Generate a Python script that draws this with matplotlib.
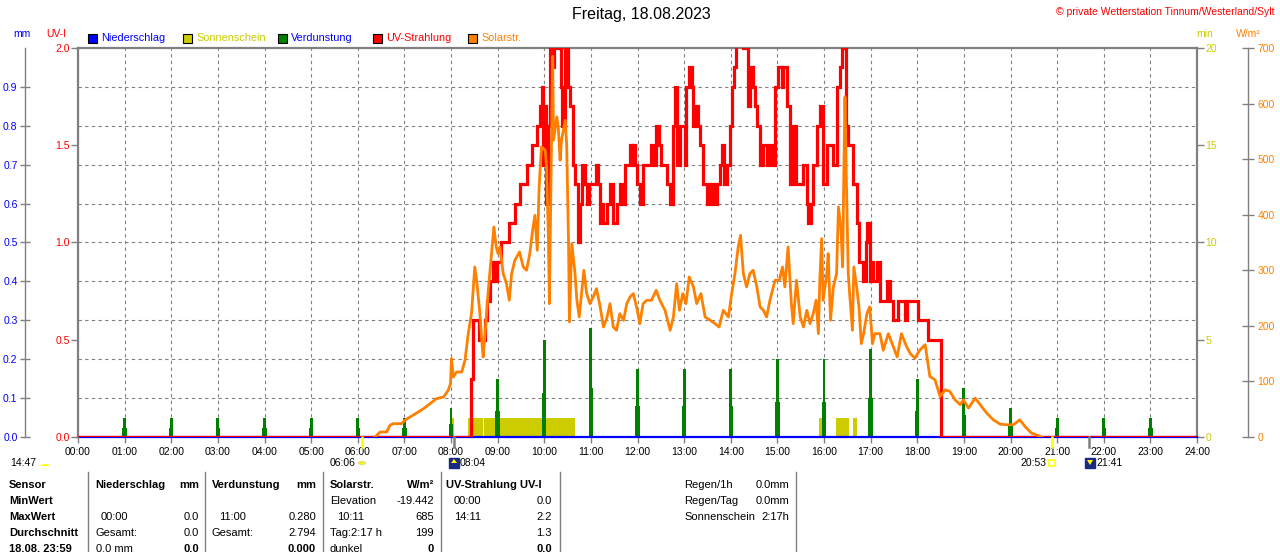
import matplotlib
matplotlib.use("Agg")
import matplotlib.pyplot as plt
from matplotlib.patches import Rectangle, Circle, Wedge, Polygon
from matplotlib.lines import Line2D
import matplotlib.transforms as mtransforms

plt.rcParams['font.family'] = ['Liberation Sans', 'DejaVu Sans']

# ---------------- data ----------------
hour_ticks = list(range(0, 25))
hour_labels = [f"{h:02d}:00" for h in hour_ticks]
mm_ticks = [0.0, 0.1, 0.2, 0.3, 0.4, 0.5, 0.6, 0.7, 0.8, 0.9]
uv_ticks = [0.0, 0.5, 1.0, 1.5, 2.0]
min_ticks = [0, 5, 10, 15, 20]
wm2_ticks = [0, 100, 200, 300, 400, 500, 600, 700]

precip_hours = [0.0, 24.0]
precip_mm = [0.0, 0.0]

evap_hours = list(range(1, 24))
evap_mm = [0.05, 0.05, 0.05, 0.05, 0.05, 0.05, 0.05, 0.075, 0.15, 0.25, 0.28,
           0.175, 0.175, 0.175, 0.2, 0.2, 0.225, 0.15, 0.125, 0.075, 0.05, 0.05, 0.05]

sun_start = [8.01, 8.36, 8.71, 15.90, 16.26, 16.63]
sun_end = [8.06, 8.68, 10.66, 15.96, 16.54, 16.70]
sun_minutes = [1, 1, 1, 1, 1, 1]

uv_hours = [0.0, 8.42, 8.47, 8.60, 8.72, 8.77, 8.83, 8.90, 8.95, 8.99, 9.07, 9.24, 9.38,
            9.48, 9.62, 9.73, 9.84, 9.91, 9.95, 9.98, 10.00, 10.04, 10.08, 10.12, 10.18,
            10.21, 10.27, 10.31, 10.36, 10.39, 10.45, 10.51, 10.55, 10.62, 10.67, 10.72,
            10.76, 10.80, 10.88, 10.92, 10.97, 11.05, 11.12, 11.16, 11.20, 11.24, 11.27,
            11.34, 11.41, 11.48, 11.57, 11.62, 11.67, 11.73, 11.84, 11.88, 11.91, 11.95,
            11.98, 12.05, 12.12, 12.30, 12.36, 12.40, 12.47, 12.50, 12.63, 12.70, 12.77,
            12.81, 12.84, 12.91, 13.02, 13.05, 13.10, 13.16, 13.20, 13.25, 13.30, 13.34,
            13.41, 13.48, 13.52, 13.56, 13.60, 13.66, 13.70, 13.77, 13.82, 13.86, 13.91,
            13.98, 14.03, 14.07, 14.11, 14.20, 14.27, 14.30, 14.38, 14.41, 14.48, 14.52,
            14.57, 14.63, 14.70, 14.77, 14.84, 14.90, 14.95, 15.02, 15.09, 15.13, 15.20,
            15.27, 15.34, 15.41, 15.56, 15.63, 15.66, 15.72, 15.77, 15.84, 15.91, 15.98,
            16.06, 16.20, 16.27, 16.34, 16.38, 16.45, 16.48, 16.52, 16.63, 16.70, 16.75,
            16.84, 16.90, 16.93, 16.98, 17.03, 17.06, 17.13, 17.20, 17.35, 17.42, 17.49,
            17.59, 17.74, 17.79, 18.02, 18.24, 18.52, 24.0]
uv_index = [0.0, 0.3, 0.6, 0.5, 0.6, 0.7, 0.8, 0.9, 0.8, 0.9, 1.0, 1.1, 1.2,
            1.3, 1.4, 1.5, 1.6, 1.7, 1.8, 1.4, 1.7, 1.2, 1.6, 2.1, 1.9,
            2.2, 2.0, 2.1, 1.8, 1.6, 2.1, 1.8, 1.7, 1.4, 1.3, 1.0,
            1.2, 1.4, 1.3, 1.2, 1.3, 1.3, 1.4, 1.3, 1.1, 1.2, 1.1,
            1.2, 1.3, 1.1, 1.2, 1.3, 1.2, 1.4, 1.5, 1.4, 1.5, 1.4,
            1.3, 1.2, 1.4, 1.5, 1.4, 1.6, 1.5, 1.4, 1.3, 1.2, 1.6,
            1.8, 1.4, 1.6, 1.4, 1.8, 1.9, 1.8, 1.6, 1.7, 1.6, 1.5,
            1.3, 1.2, 1.3, 1.2, 1.3, 1.2, 1.3, 1.4, 1.5, 1.3, 1.4,
            1.6, 1.8, 1.9, 2.2, 2.1, 2.0, 2.1, 1.7, 1.9, 1.8, 1.7,
            1.6, 1.4, 1.5, 1.4, 1.5, 1.4, 1.8, 1.9, 1.8, 1.9, 1.7,
            1.3, 1.6, 1.3, 1.4, 1.2, 1.1, 1.2, 1.4, 1.6, 1.7, 1.3,
            1.5, 1.4, 1.8, 1.9, 2.1, 2.0, 1.6, 1.5, 1.3, 1.1, 0.9,
            0.8, 1.0, 1.1, 0.8, 0.9, 0.8, 0.9, 0.7, 0.8, 0.7, 0.6,
            0.7, 0.6, 0.7, 0.6, 0.5, 0.0, 0.0]

solar_hours = [6.37, 6.48, 6.62, 6.69, 6.76, 6.94, 7.01, 7.12, 7.26, 7.41, 7.55, 7.69, 7.84,
               7.94, 7.99, 8.01, 8.05, 8.12, 8.23, 8.30, 8.37, 8.44, 8.51, 8.55, 8.62, 8.66,
               8.69, 8.73, 8.80, 8.87, 8.92, 8.97, 9.01, 9.05, 9.12, 9.19, 9.25, 9.30, 9.37,
               9.47, 9.55, 9.62, 9.69, 9.75, 9.80, 9.85, 9.89, 9.94, 10.02, 10.05, 10.09,
               10.11, 10.14, 10.18, 10.20, 10.27, 10.30, 10.34, 10.37, 10.45, 10.48, 10.52,
               10.54, 10.59, 10.66, 10.70, 10.75, 10.80, 10.85, 10.91, 10.98, 11.05, 11.12,
               11.20, 11.27, 11.34, 11.41, 11.48, 11.55, 11.62, 11.70, 11.77, 11.84, 11.91,
               11.98, 12.05, 12.12, 12.20, 12.30, 12.40, 12.48, 12.59, 12.70, 12.77, 12.84,
               12.90, 12.97, 13.04, 13.11, 13.20, 13.27, 13.36, 13.45, 13.56, 13.66, 13.75,
               13.84, 13.95, 14.02, 14.09, 14.16, 14.21, 14.27, 14.34, 14.41, 14.48, 14.56,
               14.63, 14.70, 14.77, 14.84, 14.95, 15.04, 15.11, 15.16, 15.23, 15.30, 15.34,
               15.41, 15.49, 15.56, 15.63, 15.70, 15.77, 15.83, 15.88, 15.91, 15.95, 15.98,
               16.06, 16.09, 16.14, 16.20, 16.27, 16.31, 16.36, 16.40, 16.43, 16.45, 16.48,
               16.52, 16.55, 16.61, 16.64, 16.70, 16.75, 16.80, 16.85, 16.92, 16.98, 17.04,
               17.09, 17.20, 17.27, 17.38, 17.49, 17.57, 17.66, 17.77, 17.85, 17.95, 18.06,
               18.17, 18.27, 18.38, 18.49, 18.60, 18.70, 18.81, 18.92, 18.99, 19.10, 19.24,
               19.38, 19.49, 19.63, 19.78, 19.92, 20.06, 20.20, 20.31, 20.45, 20.67]
solar_wm2 = [0, 9, 9, 21, 24, 24, 30, 36, 43, 51, 60, 69, 72,
             84, 96, 141, 108, 117, 117, 138, 186, 222, 306, 282, 222, 174,
             144, 186, 264, 330, 378, 342, 330, 342, 294, 276, 246, 294, 318,
             333, 306, 300, 330, 372, 399, 336, 450, 522, 516, 486, 354,
             240, 426, 685, 534, 576, 558, 498, 534, 570, 528, 354,
             207, 348, 294, 246, 216, 258, 300, 258, 240, 252, 267,
             234, 198, 213, 240, 198, 192, 222, 210, 240, 252, 258,
             234, 204, 240, 246, 246, 264, 246, 228, 192, 216, 276,
             228, 258, 240, 288, 270, 240, 258, 216, 210, 204, 198,
             228, 216, 258, 294, 342, 363, 294, 270, 294, 300, 270,
             234, 228, 216, 246, 282, 282, 306, 270, 342, 240, 204,
             282, 216, 198, 228, 204, 222, 246, 186, 282, 357, 246,
             294, 330, 210, 270, 294, 414, 378, 306, 504, 612, 462,
             294, 258, 192, 306, 270, 234, 168, 186, 222, 234, 168,
             186, 186, 156, 186, 162, 144, 186, 163, 150, 142, 157,
             166, 109, 103, 73, 85, 82, 67, 58, 67, 52, 70,
             55, 43, 31, 23, 22, 22, 31, 19, 7, 0]

# ---------------- colours ----------------
C_BLUE = "#0000ff"
C_YEL = "#cccc00"
C_GREEN = "#008000"
C_RED = "#ff0000"
C_ORANGE = "#ff8000"
C_GRAY = "#808080"

W, H = 1280, 552
fig = plt.figure(figsize=(W / 100, H / 100), dpi=100)
fig.patch.set_facecolor("white")


def fx(px):
    return px / W


def fy(py):
    return 1 - py / H


pos = [fx(78), fy(437), (1197 - 78) / W, (437 - 48) / H]

ax_min = fig.add_axes(pos)
ax_min.set_facecolor("white")
ax_mm = fig.add_axes(pos, sharex=ax_min)
ax_uv = fig.add_axes(pos, sharex=ax_min)
ax_w = fig.add_axes(pos, sharex=ax_min)
for a in (ax_mm, ax_uv, ax_w):
    a.patch.set_visible(False)
for a in (ax_min, ax_mm, ax_uv, ax_w):
    for s in a.spines.values():
        s.set_visible(False)
    a.tick_params(axis="both", which="both", left=False, right=False, top=False,
                  bottom=False, labelleft=False, labelright=False,
                  labeltop=False, labelbottom=False)

ax_min.set_xlim(0, 24)
ax_min.set_ylim(0, 20)
ax_mm.set_ylim(0, 1.0)
ax_uv.set_ylim(0, 2.0)
ax_w.set_ylim(0, 700)

ax_min.set_xticks(hour_ticks)
ax_min.set_xticklabels(hour_labels)
ax_min.tick_params(axis="x", bottom=True, labelbottom=True, length=4, width=1,
                   color=C_GRAY, direction="out", pad=3, labelsize=7.5, labelcolor="black")

ax_mm.set_yticks(mm_ticks)
ax_mm.set_yticklabels([f"{v:.1f}" for v in mm_ticks])
ax_mm.grid(True, axis="both", color=C_GRAY, linestyle=(0, (3, 3)), linewidth=0.8)
ax_mm.spines["left"].set_visible(True)
ax_mm.spines["left"].set_position(("outward", 38))
ax_mm.spines["left"].set_color(C_GRAY)
ax_mm.spines["left"].set_linewidth(1)
ax_mm.tick_params(axis="y", left=True, labelleft=True, direction="inout", length=7,
                  width=1, color=C_GRAY, labelcolor=C_BLUE, labelsize=7.5, pad=2)

ax_uv.set_yticks(uv_ticks)
ax_uv.set_yticklabels([f"{v:.1f}" for v in uv_ticks])
ax_uv.spines["left"].set_visible(True)
ax_uv.spines["top"].set_visible(True)
for s in ("left", "top"):
    ax_uv.spines[s].set_color(C_GRAY)
    ax_uv.spines[s].set_linewidth(1.6)
ax_uv.tick_params(axis="y", left=True, labelleft=True, direction="out", length=5,
                  width=1, color=C_GRAY, labelcolor=C_RED, labelsize=7.5, pad=1)

ax_min.set_yticks(min_ticks)
ax_min.set_yticklabels([str(v) for v in min_ticks])
ax_min.spines["right"].set_visible(True)
ax_min.spines["right"].set_color(C_GRAY)
ax_min.spines["right"].set_linewidth(1.6)
ax_min.tick_params(axis="y", right=True, labelright=True, direction="out", length=5,
                   width=1, color=C_GRAY, labelcolor=C_YEL, labelsize=7.5, pad=1)

ax_w.set_yticks(wm2_ticks)
ax_w.set_yticklabels([str(v) for v in wm2_ticks])
ax_w.spines["right"].set_visible(True)
ax_w.spines["right"].set_position(("outward", 37))
ax_w.spines["right"].set_color(C_GRAY)
ax_w.spines["right"].set_linewidth(1)
ax_w.tick_params(axis="y", right=True, labelright=True, direction="inout", length=9,
                 width=1, color=C_GRAY, labelcolor=C_ORANGE, labelsize=7.5, pad=2)

# ---------------- series ----------------
sun_width = [e - s for s, e in zip(sun_start, sun_end)]
ax_min.bar(sun_start, sun_minutes, width=sun_width, align="edge", color=C_YEL,
           linewidth=0, zorder=3)

ax_mm.bar(evap_hours, evap_mm, width=0.06, color=C_GREEN, linewidth=0, zorder=3)
ax_mm.bar(evap_hours, [v * 0.45 for v in evap_mm], width=0.095, color=C_GREEN,
          linewidth=0, zorder=3)
ax_mm.plot(precip_hours, precip_mm, color=C_BLUE, linewidth=1.6, zorder=5, clip_on=False)

ax_uv.plot(uv_hours, uv_index, color=C_RED, linewidth=2.3, drawstyle="steps-post",
           solid_joinstyle="miter", zorder=4)
ax_w.plot(solar_hours, solar_wm2, color=C_ORANGE, linewidth=2.0, zorder=4)

# ---------------- texts ----------------
fig.text(fx(641), fy(15), "Freitag, 18.08.2023", ha="center", va="center", fontsize=11.5)
fig.text(fx(1275), fy(12), "© private Wetterstation Tinnum/Westerland/Sylt", ha="right",
         va="center", fontsize=7.5, color=C_RED)

fig.text(fx(22), fy(34), "mm", ha="center", va="center", fontsize=7.5, color=C_BLUE)
fig.text(fx(56), fy(34), "UV-I", ha="center", va="center", fontsize=7.5, color=C_RED)
fig.text(fx(1205), fy(34), "min", ha="center", va="center", fontsize=7.5, color=C_YEL)
fig.text(fx(1248), fy(34), "W/m²", ha="center", va="center", fontsize=7.5, color=C_ORANGE)

legend_items = [("Niederschlag", C_BLUE, C_BLUE, 88),
                ("Sonnenschein", C_YEL, C_YEL, 183),
                ("Verdunstung", C_GREEN, C_BLUE, 278),
                ("UV-Strahlung", C_RED, C_RED, 373),
                ("Solarstr.", C_ORANGE, C_ORANGE, 468)]
for label, sq, tc, x0 in legend_items:
    fig.patches.append(Rectangle((fx(x0), fy(43)), 9 / W, 9 / H, transform=fig.transFigure,
                                 facecolor=sq, edgecolor="black", linewidth=0.8))
    fig.text(fx(x0 + 13), fy(38), label, ha="left", va="center", fontsize=7.8, color=tc)

bt = mtransforms.blended_transform_factory(ax_min.transData, fig.transFigure)
for hx, col in ((6.10, "#ffff00"), (8.07, C_GRAY), (20.88, "#ffff00"), (21.68, C_GRAY)):
    fig.lines.append(Line2D([hx, hx], [fy(437), fy(447)], transform=bt, color=col,
                            linewidth=1.8))

icon_y = fy(463)
fig.text(fx(355), icon_y, "06:06", ha="right", va="center", fontsize=7.5)
fig.patches.append(Circle((fx(362), icon_y), 3.2 / W, transform=fig.transFigure,
                          facecolor="#ffff00", edgecolor="#e0e060", linewidth=1))
fig.patches.append(Rectangle((fx(449), fy(468)), 10 / W, 10 / H, transform=fig.transFigure,
                             facecolor="#1a2a80", edgecolor="#1a2a80"))
fig.patches.append(Polygon([(fx(454), fy(459)), (fx(451), fy(463)), (fx(457), fy(463))],
                           closed=True, transform=fig.transFigure, facecolor="#ffff00",
                           edgecolor="none"))
fig.text(fx(460), icon_y, "08:04", ha="left", va="center", fontsize=7.5)

fig.text(fx(1046), icon_y, "20:53", ha="right", va="center", fontsize=7.5)
fig.patches.append(Rectangle((fx(1049), fy(466)), 6 / W, 6 / H, transform=fig.transFigure,
                             facecolor="white", edgecolor="#ffff00", linewidth=1.2))
fig.patches.append(Rectangle((fx(1085), fy(468)), 10 / W, 10 / H, transform=fig.transFigure,
                             facecolor="#1a2a80", edgecolor="#1a2a80"))
fig.patches.append(Polygon([(fx(1090), fy(465)), (fx(1087), fy(460)), (fx(1093), fy(460))],
                           closed=True, transform=fig.transFigure, facecolor="#ffff00",
                           edgecolor="none"))
fig.text(fx(1096), icon_y, "21:41", ha="left", va="center", fontsize=7.5)

fig.text(fx(10), icon_y, "14:47", ha="left", va="center", fontsize=7.5)
fig.patches.append(Wedge((fx(45), fy(466)), 4.5 / W, 0, 180, transform=fig.transFigure,
                         facecolor="#ffff00", edgecolor="none"))

# ---------------- table ----------------
for xs in (88, 205, 323, 441, 560, 796):
    fig.lines.append(Line2D([fx(xs), fx(xs)], [fy(472), fy(552)], transform=fig.transFigure,
                            color=C_GRAY, linewidth=1))

rows_y = [485, 501, 517, 533, 549]
TS = 8

row_heads = ["Sensor", "MinWert", "MaxWert", "Durchschnitt", "18.08. 23:59"]
for t, yy in zip(row_heads, rows_y):
    fig.text(fx(9), fy(yy), t, ha="left", va="center", fontsize=TS, fontweight="bold")

cells = [
    ("Niederschlag", 95, "left", 0, True), ("mm", 199, "right", 0, True),
    ("00:00", 101, "left", 2, False), ("0.0", 199, "right", 2, False),
    ("Gesamt:", 95, "left", 3, False), ("0.0", 199, "right", 3, False),
    ("0.0 mm", 96, "left", 4, False), ("0.0", 199, "right", 4, True),
    ("Verdunstung", 212, "left", 0, True), ("mm", 316, "right", 0, True),
    ("11:00", 219, "left", 2, False), ("0.280", 316, "right", 2, False),
    ("Gesamt:", 212, "left", 3, False), ("2.794", 316, "right", 3, False),
    ("0.000", 316, "right", 4, True),
    ("Solarstr.", 330, "left", 0, True), ("W/m²", 434, "right", 0, True),
    ("Elevation", 330, "left", 1, False), ("-19.442", 434, "right", 1, False),
    ("10:11", 337, "left", 2, False), ("685", 434, "right", 2, False),
    ("Tag:2:17 h", 330, "left", 3, False), ("199", 434, "right", 3, False),
    ("dunkel", 330, "left", 4, False), ("0", 434, "right", 4, True),
    ("UV-Strahlung UV-I", 446, "left", 0, True),
    ("00:00", 454, "left", 1, False), ("0.0", 552, "right", 1, False),
    ("14:11", 454, "left", 2, False), ("2.2", 552, "right", 2, False),
    ("1.3", 552, "right", 3, False),
    ("0.0", 552, "right", 4, True),
    ("Regen/1h", 684, "left", 0, False), ("0.0mm", 789, "right", 0, False),
    ("Regen/Tag", 684, "left", 1, False), ("0.0mm", 789, "right", 1, False),
    ("Sonnenschein", 684, "left", 2, False), ("2:17h", 789, "right", 2, False),
]
for t, xx, al, r, b in cells:
    fig.text(fx(xx), fy(rows_y[r]), t, ha=al, va="center", fontsize=TS,
             fontweight="bold" if b else "normal")

fig.savefig("out.png", dpi=100, facecolor="white")
